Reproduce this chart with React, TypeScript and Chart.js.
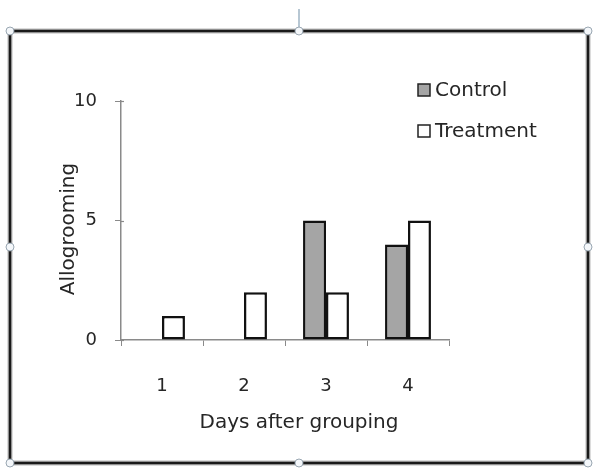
import React, { useEffect, useRef } from "react";
import { Chart, registerables } from "chart.js";

Chart.register(...registerables);

const days = ["1", "2", "3", "4"];
const controlValues = [0, 0, 5, 4];
const treatmentValues = [1, 2, 2, 5];
const yTickValues = [0, 5, 10];
const xTitle = "Days after grouping";
const yTitle = "Allogrooming";

const FONT = "'DejaVu Sans', 'Open Sans', sans-serif";
const TITLE_SIZE = 20;
const TICK_SIZE = 18;
const TEXT = "#262626";
const AXIS = "#8a8a8a";

// Frame with selection handles around the whole figure, axis titles and a simple legend.
const framePlugin = {
  id: "frame",
  beforeDraw(chart: any) {
    const ctx = chart.ctx;
    ctx.save();
    ctx.fillStyle = "#ffffff";
    ctx.fillRect(0, 0, chart.width, chart.height);
    ctx.restore();
  },
  afterDraw(chart: any) {
    const ctx = chart.ctx;
    const l = 10, t = 31, r = 588, b = 463;
    ctx.save();
    // soft shadow under the frame line
    ctx.strokeStyle = "#b9b9b9";
    ctx.lineWidth = 5;
    ctx.strokeRect(l, t, r - l, b - t);
    ctx.strokeStyle = "#1a1a1a";
    ctx.lineWidth = 2.5;
    ctx.strokeRect(l, t, r - l, b - t);

    // rotation handle stem
    const mx = (l + r) / 2;
    ctx.strokeStyle = "#9fb4c4";
    ctx.lineWidth = 1.5;
    ctx.beginPath();
    ctx.moveTo(mx, 9);
    ctx.lineTo(mx, t);
    ctx.stroke();

    const handles = [
      [l, t], [mx, t], [r, t],
      [l, (t + b) / 2], [r, (t + b) / 2],
      [l, b], [mx, b], [r, b],
    ];
    for (const [hx, hy] of handles) {
      ctx.beginPath();
      ctx.arc(hx, hy, 4, 0, Math.PI * 2);
      ctx.fillStyle = "#f4f7fa";
      ctx.fill();
      ctx.strokeStyle = "#9aa7b2";
      ctx.lineWidth = 1;
      ctx.stroke();
    }

    // y-axis tick marks cross the axis line
    const yScale = chart.scales.y;
    ctx.strokeStyle = AXIS;
    ctx.lineWidth = 1.2;
    yScale.ticks.forEach((tk: any) => {
      const py = Math.round(yScale.getPixelForValue(tk.value)) + 0.5;
      ctx.beginPath();
      ctx.moveTo(yScale.right, py);
      ctx.lineTo(yScale.right + 3, py);
      ctx.stroke();
    });

    // axis titles, centred on the figure frame
    ctx.font = `${TITLE_SIZE}px ${FONT}`;
    ctx.fillStyle = TEXT;
    ctx.textAlign = "center";
    ctx.textBaseline = "middle";
    ctx.fillText(xTitle, mx, 423);
    ctx.save();
    ctx.translate(69, 229);
    ctx.rotate(-Math.PI / 2);
    ctx.fillText(yTitle, 0, 0);
    ctx.restore();

    // legend
    const items = chart.data.datasets;
    const lx = 418;
    const ly = [90, 131];
    ctx.textAlign = "left";
    items.forEach((ds: any, i: number) => {
      const y = ly[i];
      ctx.fillStyle = ds.backgroundColor;
      ctx.fillRect(lx, y - 6, 12, 12);
      ctx.strokeStyle = "#222";
      ctx.lineWidth = 1.5;
      ctx.strokeRect(lx, y - 6, 12, 12);
      ctx.fillStyle = TEXT;
      ctx.fillText(ds.label, lx + 17, y + 1);
    });
    ctx.restore();
  },
};

export default function App() {
  const canvasRef = useRef<HTMLCanvasElement | null>(null);

  useEffect(() => {
    const canvas = canvasRef.current;
    if (!canvas) return;
    const chart = new Chart(canvas, {
      type: "bar",
      data: {
        labels: days,
        datasets: [
          {
            label: "Control",
            data: controlValues,
            backgroundColor: "#a5a5a5",
            borderColor: "#111111",
            borderWidth: 2.5,
            borderSkipped: false,
          },
          {
            label: "Treatment",
            data: treatmentValues,
            backgroundColor: "#ffffff",
            borderColor: "#111111",
            borderWidth: 2.5,
            borderSkipped: false,
          },
        ],
      },
      options: {
        animation: false,
        responsive: false,
        devicePixelRatio: 1,
        layout: { padding: { left: 58, right: 145, top: 101, bottom: 33 } },
        datasets: {
          bar: { categoryPercentage: 0.56, barPercentage: 1 },
        },
        plugins: {
          legend: { display: false },
          tooltip: { enabled: false },
        },
        scales: {
          x: {
            offset: true,
            grid: {
              offset: true,
              drawOnChartArea: false,
              drawTicks: true,
              tickLength: 6,
              color: AXIS,
            },
            border: { display: true, color: AXIS, width: 1.5 },
            ticks: { color: TEXT, font: { family: FONT, size: TICK_SIZE }, padding: 30 },
            afterFit: (scale: any) => {
              scale.height = 95;
            },
          },
          y: {
            min: 0,
            max: 10,
            afterBuildTicks: (scale: any) => {
              scale.ticks = yTickValues.map((v) => ({ value: v }));
            },
            grid: {
              drawOnChartArea: false,
              drawTicks: true,
              tickLength: 6,
              color: AXIS,
            },
            border: { display: true, color: AXIS, width: 1.5 },
            ticks: { color: TEXT, font: { family: FONT, size: TICK_SIZE }, padding: 18 },
            afterFit: (scale: any) => {
              scale.width = 63;
            },
          },
        },
      },
      plugins: [framePlugin],
    });
    return () => chart.destroy();
  }, []);

  return (
    <div style={{ position: "absolute", left: 0, top: 0, width: 594, height: 468 }}>
      <canvas ref={canvasRef} width={594} height={468} style={{ display: "block" }} />
    </div>
  );
}
